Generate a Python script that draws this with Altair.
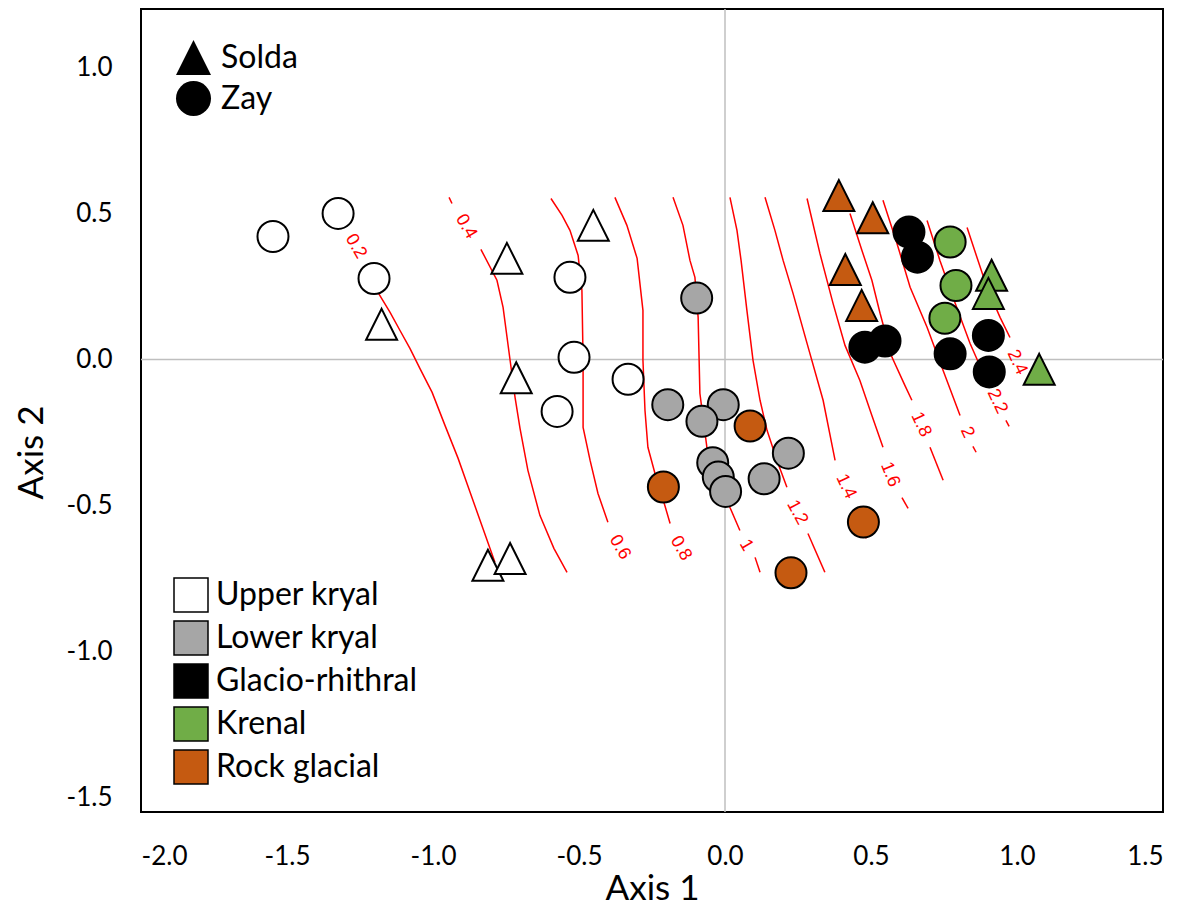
import altair as alt
import pandas as pd

# ---------------- points (Axis 1, Axis 2) ----------------
ZONES = ["Upper kryal", "Lower kryal", "Glacio-rhithral", "Krenal", "Rock glacial"]
ZONE_COLORS = ["#FFFFFF", "#A6A6A6", "#000000", "#70AD47", "#C55A11"]
SITES = ["Solda", "Zay"]

UK_ZAY_X = [-1.548, -1.325, -1.202, -0.531, -0.517, -0.332, -0.575]
UK_ZAY_Y = [0.421, 0.500, 0.277, 0.281, 0.007, -0.068, -0.178]
UK_SOLDA_X = [-1.176, -0.747, -0.451, -0.715, -0.812, -0.736]
UK_SOLDA_Y = [0.120, 0.346, 0.459, -0.063, -0.705, -0.682]
LK_ZAY_X = [-0.097, -0.196, -0.006, -0.079, 0.217, -0.042, -0.023, 0.002, 0.134]
LK_ZAY_Y = [0.210, -0.155, -0.155, -0.212, -0.321, -0.354, -0.403, -0.452, -0.409]
GR_ZAY_X = [0.630, 0.659, 0.479, 0.548, 0.771, 0.902, 0.905]
GR_ZAY_Y = [0.436, 0.350, 0.042, 0.063, 0.019, 0.082, -0.043]
KR_ZAY_X = [0.771, 0.791, 0.753]
KR_ZAY_Y = [0.402, 0.253, 0.141]
KR_SOLDA_X = [0.913, 0.902, 1.076]
KR_SOLDA_Y = [0.288, 0.226, -0.034]
RG_ZAY_X = [0.086, -0.211, 0.226, 0.474]
RG_ZAY_Y = [-0.228, -0.437, -0.731, -0.557]
RG_SOLDA_X = [0.390, 0.506, 0.412, 0.468]
RG_SOLDA_Y = [0.561, 0.485, 0.308, 0.185]

# ---------------- contour lines (segments broken at labels) ----------------
C02 = [[(-1.188, 0.229), (-1.147, 0.161), (-1.113, 0.099), (-1.079, 0.038), (-1.045, -0.031),
        (-1.003, -0.113), (-0.959, -0.226), (-0.914, -0.339), (-0.873, -0.455), (-0.829, -0.579),
        (-0.788, -0.695)]]
C04 = [[(-0.945, 0.555), (-0.935, 0.534)],
       [(-0.836, 0.377), (-0.781, 0.271), (-0.760, 0.178), (-0.736, -0.003), (-0.719, -0.130),
        (-0.702, -0.236), (-0.675, -0.380), (-0.634, -0.534), (-0.586, -0.647), (-0.541, -0.729)]]
C06 = [[(-0.596, 0.551), (-0.558, 0.493), (-0.531, 0.442), (-0.503, 0.356), (-0.490, 0.236),
        (-0.486, -0.003), (-0.486, -0.233), (-0.462, -0.346), (-0.435, -0.459), (-0.401, -0.558)]]
C08 = [[(-0.377, 0.555), (-0.336, 0.459), (-0.301, 0.346), (-0.281, 0.168), (-0.281, -0.003),
        (-0.274, -0.175), (-0.264, -0.301), (-0.240, -0.390), (-0.216, -0.466), (-0.188, -0.562)]]
C10 = [[(-0.178, 0.555), (-0.144, 0.459), (-0.120, 0.339), (-0.103, 0.281), (-0.092, 0.144),
        (-0.086, -0.116), (-0.062, -0.301), (-0.024, -0.414), (0.017, -0.507), (0.051, -0.586)],
       [(0.103, -0.678), (0.120, -0.729)]]
C12 = [[(0.017, 0.555), (0.041, 0.442), (0.055, 0.339), (0.075, 0.168), (0.096, -0.003),
        (0.120, -0.140), (0.144, -0.243), (0.178, -0.346), (0.212, -0.438)],
       [(0.284, -0.596), (0.342, -0.729)]]
C14 = [[(0.137, 0.555), (0.171, 0.442), (0.199, 0.339), (0.233, 0.226), (0.281, 0.055),
        (0.336, -0.140), (0.377, -0.346)],
       [(0.455, -0.524), (0.483, -0.613)]]
C16 = [[(0.281, 0.551), (0.325, 0.363), (0.370, 0.192), (0.411, 0.048), (0.462, -0.072),
        (0.503, -0.192), (0.541, -0.301)],
       [(0.606, -0.473), (0.627, -0.510)]]
C18 = [[(0.428, 0.500), (0.469, 0.373), (0.503, 0.271), (0.531, 0.158), (0.572, 0.007),
        (0.616, -0.089), (0.640, -0.140)],
       [(0.702, -0.301), (0.747, -0.414)]]
C20 = [[(0.541, 0.545), (0.589, 0.397), (0.634, 0.247), (0.692, 0.110), (0.747, -0.038),
        (0.805, -0.192)],
       [(0.849, -0.298), (0.860, -0.318)]]
C22 = [[(0.692, 0.476), (0.736, 0.339), (0.781, 0.212), (0.839, 0.055), (0.880, -0.038)],
       [(0.962, -0.209), (0.973, -0.229)]]
C24 = [[(0.829, 0.452), (0.863, 0.349), (0.897, 0.247), (0.942, 0.144), (0.976, 0.075)]]

CONTOURS = {"0.2": C02, "0.4": C04, "0.6": C06, "0.8": C08, "1": C10, "1.2": C12,
            "1.4": C14, "1.6": C16, "1.8": C18, "2": C20, "2.2": C22, "2.4": C24}

LABEL_TEXT = ["0.2", "0.4", "0.6", "0.8", "1", "1.2", "1.4", "1.6", "1.8", "2", "2.2", "2.4"]
LABEL_X = [-1.264, -0.887, -0.360, -0.151, 0.072, 0.247, 0.414, 0.565, 0.671, 0.829, 0.932, 1.000]
LABEL_Y = [0.387, 0.455, -0.644, -0.647, -0.637, -0.524, -0.435, -0.394, -0.223, -0.250, -0.144, -0.010]
LABEL_ANGLE = [60, 60, 60, 60, 60, 62, 65, 68, 65, 65, 65, 65]

X_TICKS = [-2.0, -1.5, -1.0, -0.5, 0.0, 0.5, 1.0, 1.5]
Y_TICKS = [-1.5, -1.0, -0.5, 0.0, 0.5, 1.0]

# ---------------- tables ----------------
rows = []
def add(zone, site, xs, ys):
    for a, b in zip(xs, ys):
        rows.append({"zone": zone, "site": site, "x": a, "y": b})

add("Upper kryal", "Zay", UK_ZAY_X, UK_ZAY_Y)
add("Upper kryal", "Solda", UK_SOLDA_X, UK_SOLDA_Y)
add("Lower kryal", "Zay", LK_ZAY_X, LK_ZAY_Y)
add("Rock glacial", "Zay", RG_ZAY_X, RG_ZAY_Y)
add("Rock glacial", "Solda", RG_SOLDA_X, RG_SOLDA_Y)
add("Glacio-rhithral", "Zay", GR_ZAY_X, GR_ZAY_Y)
add("Krenal", "Zay", KR_ZAY_X, KR_ZAY_Y)
add("Krenal", "Solda", KR_SOLDA_X, KR_SOLDA_Y)
pts = pd.DataFrame(rows)

crow = []
for lev, segs in CONTOURS.items():
    for si, seg in enumerate(segs):
        for oi, (a, b) in enumerate(seg):
            crow.append({"seg": f"{lev}_{si}", "o": oi, "x": a, "y": b})
cont = pd.DataFrame(crow)

labs = pd.DataFrame({"t": LABEL_TEXT, "x": LABEL_X, "y": LABEL_Y, "a": LABEL_ANGLE})

vline = pd.DataFrame({"x": [0.0]})
hline = pd.DataFrame({"y": [0.0]})

# ---------------- scales / axes ----------------
xs = alt.Scale(domain=[-2.0, 1.5], nice=False, zero=False)
ys = alt.Scale(domain=[-1.55, 1.2], nice=False, zero=False)
lab_expr = "replace(format(datum.value, '.1f'), '\u2212', '-')"
x_axis = alt.Axis(values=X_TICKS, labelExpr=lab_expr, title="Axis 1", grid=False, ticks=False,
                  tickSize=0, domain=False, labelPadding=31,
                  titleX=511, titleY=76, titleBaseline="middle", titleAlign="center")
y_axis = alt.Axis(values=Y_TICKS, labelExpr=lab_expr, title="Axis 2", grid=False, ticks=False,
                  tickSize=0, domain=False, labelPadding=29,
                  titleX=-110, titleY=443, titleBaseline="middle", titleAlign="center",
                  titleAngle=270)
X = alt.X("x:Q", scale=xs, axis=x_axis)
Y = alt.Y("y:Q", scale=ys, axis=y_axis)

TRI = "M0,-1L1,1L-1,1Z"

rule_v = alt.Chart(vline).mark_rule(color="#BFBFBF", strokeWidth=1.5).encode(x=X)
rule_h = alt.Chart(hline).mark_rule(color="#BFBFBF", strokeWidth=1.5).encode(y=Y)

lines = alt.Chart(cont).mark_line(color="#FF0000", strokeWidth=1.5).encode(
    x=X, y=Y, detail="seg:N", order="o:Q")

texts = alt.Chart(labs).mark_text(color="#FF0000", font="Liberation Sans", fontSize=18,
                                  align="center", baseline="middle").encode(
    x=X, y=Y, text="t:N", angle=alt.Angle("a:Q", scale=None))

points = alt.Chart(pts).mark_point(filled=True, opacity=1, stroke="black", strokeWidth=2,
                                   size=961).encode(
    x=X, y=Y,
    fill=alt.Fill("zone:N", scale=alt.Scale(domain=ZONES, range=ZONE_COLORS),
                  legend=alt.Legend(title=None, orient="none", legendX=32, legendY=568,
                                    symbolType="square", symbolSize=1156,
                                    symbolStrokeColor="black", symbolStrokeWidth=1.5,
                                    labelFont="Lato", labelFontSize=32, labelColor="black",
                                    labelLimit=0, labelOffset=7, rowPadding=3, padding=0)),
    shape=alt.Shape("site:N", scale=alt.Scale(domain=SITES, range=[TRI, "circle"]),
                    legend=alt.Legend(title=None, orient="none", legendX=35, legendY=31,
                                      symbolSize=1225, symbolFillColor="black",
                                      symbolStrokeColor="black", symbolStrokeWidth=0,
                                      labelFont="Lato", labelFontSize=32, labelColor="black",
                                      labelLimit=0, labelOffset=10, rowPadding=6, padding=0)),
)

chart = alt.layer(rule_v, rule_h, lines, texts, points).properties(
    width=1022, height=803,
    autosize=alt.AutoSizeParams(type="none"),
    padding={"left": 133, "top": 1, "right": 20, "bottom": 100},
    background="white",
).configure_view(stroke="black", strokeWidth=2).configure_axis(
    labelFont="Lato", labelFontSize=26, labelColor="black",
    titleFont="Lato", titleFontSize=35, titleFontWeight="normal", titleColor="black",
)

chart.save("out.html", embed_options={"renderer": "svg", "actions": False})
